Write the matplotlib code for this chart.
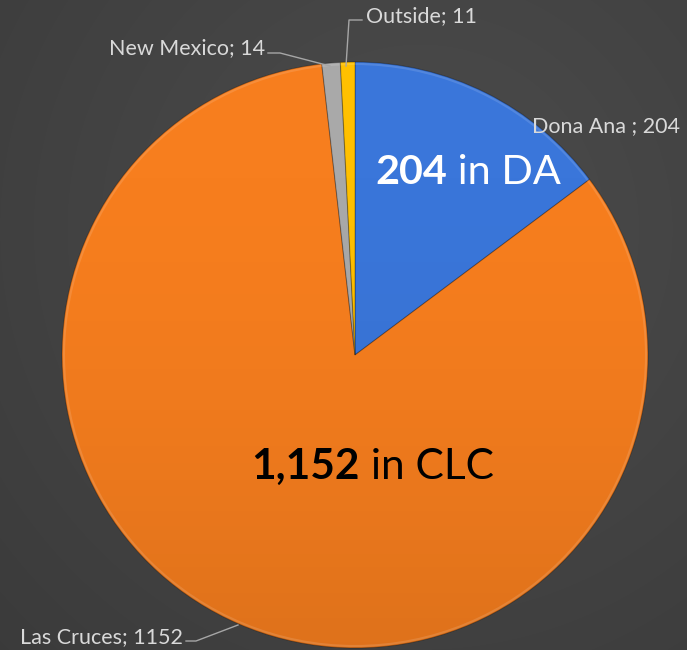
import numpy as np
import matplotlib.pyplot as plt
from matplotlib.patches import Circle

# data
labels = ["Dona Ana ", "Las Cruces", "New Mexico", "Outside"]
counts = [204, 1152, 14, 11]
colors = ["#3a76da", "#f77e1e", "#a9a9a9", "#ffc000"]

plt.rcParams['font.family'] = ['Lato', 'DejaVu Sans']

fig = plt.figure(figsize=(6.87, 6.5), dpi=100)
ax = fig.add_axes([0, 0, 1, 1])

# dark radial background
yy, xx = np.mgrid[0:650, 0:687]
d = np.hypot(xx - 420, yy - 420) / 600
bg = np.clip(0.30 - 0.07 * d, 0.2, 0.3)
ax.imshow(np.dstack([bg, bg, bg]), extent=(0, 687, 0, 650), origin='lower', zorder=0)

cx, cy, r = 355, 295, 293
wedges, _ = ax.pie(counts, colors=colors, startangle=90, counterclock=False,
                   center=(cx, cy), radius=r, frame=True,
                   wedgeprops=dict(edgecolor='#00000040', linewidth=0.8, zorder=2))
ax.set_xlim(0, 687)
ax.set_ylim(0, 650)
ax.axis('off')

# soft shading to mimic the bevel: darker toward the bottom
shade = np.zeros((650, 687, 4))
t = np.clip((cy + r - yy) / (2 * r), 0, 1)
shade[..., 3] = 0.10 * t ** 2
img = ax.imshow(shade, extent=(0, 687, 0, 650), origin='lower', zorder=3)
img.set_clip_path(Circle((cx, cy), r, transform=ax.transData))
rim = Circle((cx, cy), r - 2, fill=False, ec='#ffffff', lw=1.5, alpha=0.12, zorder=4)
ax.add_patch(rim)

lab_col = '#d9d9d9'
line_col = '#a6a6a6'
fs = 15.5

ax.text(532, 650 - 126, f"{labels[0]}; {counts[0]}", color=lab_col, fontsize=fs,
        ha='left', va='center', zorder=5)

ax.text(183, 650 - 637, f"{labels[1]}; {counts[1]}", color=lab_col, fontsize=fs,
        ha='right', va='center', zorder=5)
ax.plot([186, 196, 238], [650 - 641, 650 - 641, 650 - 625], color=line_col, lw=1, zorder=5)

ax.text(265, 650 - 48, f"{labels[2]}; {counts[2]}", color=lab_col, fontsize=fs,
        ha='right', va='center', zorder=5)
ax.plot([268, 280, 330], [650 - 53, 650 - 53, 650 - 66], color=line_col, lw=1, zorder=5)

ax.text(366, 650 - 16, f"{labels[3]}; {counts[3]}", color=lab_col, fontsize=fs,
        ha='left', va='center', zorder=5)
ax.plot([346, 349, 362], [650 - 66, 650 - 20, 650 - 20], color=line_col, lw=1, zorder=5)

# big callouts inside the slices
t1 = ax.text(375, 650 - 172, f"{counts[0]}", color='white', fontsize=29.8,
             fontweight='bold', ha='left', va='center', zorder=6)
ax.annotate(" in DA", xycoords=t1, xy=(1, 0.5), va='center', ha='left',
            color='white', fontsize=29.8, zorder=6)

t2 = ax.text(251, 650 - 467, f"{counts[1]:,}", color='black', fontsize=30.5,
             fontweight='bold', ha='left', va='center', zorder=6)
ax.annotate(" in CLC", xycoords=t2, xy=(1, 0.5), va='center', ha='left',
            color='black', fontsize=30.5, zorder=6)

fig.savefig("out.png", dpi=100)
